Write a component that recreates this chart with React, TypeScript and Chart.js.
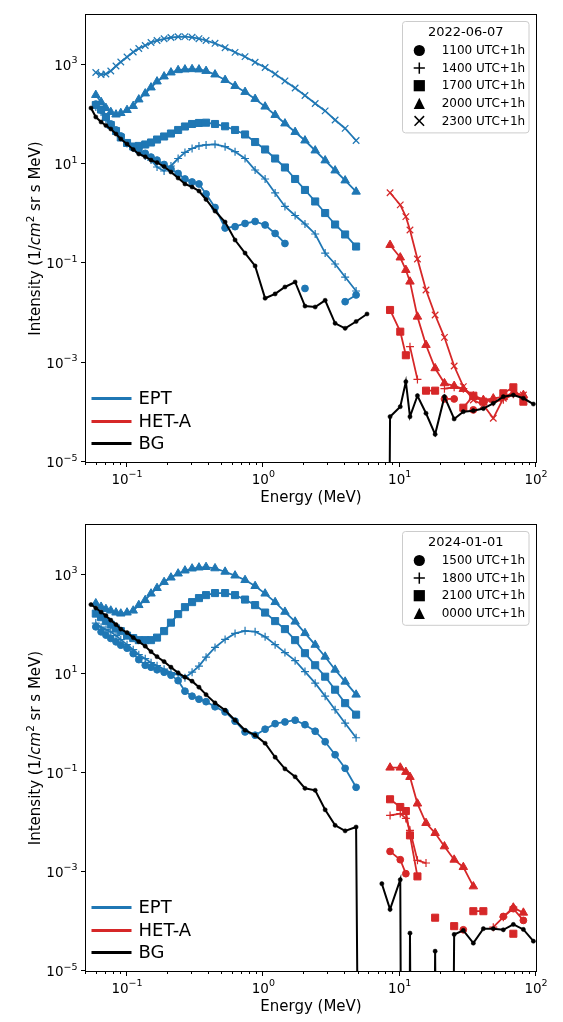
import React, { useEffect, useRef } from "react";
import { Chart, registerables } from "chart.js";

Chart.register(...registerables);

const FONT = '"DejaVu Sans", "Liberation Sans", sans-serif';
const BLUE = "#1f77b4";
const RED = "#d62728";
const BLACK = "#000000";

// ---------------- energies (MeV) ----------------
const EPT_ENERGY = [
  0.059, 0.0645, 0.07, 0.076, 0.083, 0.09, 0.1, 0.111, 0.122, 0.136, 0.15, 0.166,
  0.187, 0.21, 0.237, 0.266, 0.3, 0.337, 0.38, 0.442, 0.524, 0.62, 0.734, 0.87,
  1.03, 1.22, 1.44, 1.71, 2.02, 2.4, 2.84, 3.36, 3.98, 4.79,
];
const BG_EPT_ENERGY = [
  0.0544, 0.059, 0.0645, 0.07, 0.076, 0.083, 0.09, 0.1, 0.111, 0.122, 0.136, 0.15,
  0.166, 0.187, 0.21, 0.237, 0.266, 0.3, 0.337, 0.38, 0.442, 0.524, 0.62, 0.734,
  0.87, 1.03, 1.22, 1.44, 1.71, 2.02, 2.4, 2.84, 3.36, 3.98, 4.79, 5.76,
];
const HET_ENERGY = [
  7.4, 8.5, 10.1, 11.1, 11.9, 13.5, 15.6, 18.2, 21.3, 25.1, 29.3, 34.7, 41.1, 48.6,
  57.6, 68.2, 80.8, 95.7,
];

// ---------------- axes ----------------
const X_MIN = 0.05;
const X_MAX = 100;
const Y_MIN = 1e-5;
const Y_MAX = 1e4;
const X_MAJOR_TICKS = [0.1, 1, 10, 100];
const X_MAJOR_EXPONENTS = ["\u22121", "0", "1", "2"];
const X_MINOR_TICKS = [
  0.05, 0.06, 0.07, 0.08, 0.09, 0.2, 0.3, 0.4, 0.5, 0.6, 0.7, 0.8, 0.9, 2, 3, 4, 5, 6,
  7, 8, 9, 20, 30, 40, 50, 60, 70, 80, 90,
];
const Y_TICKS = [1e3, 1e1, 1e-1, 1e-3, 1e-5];
const Y_EXPONENTS = ["3", "1", "\u22121", "\u22123", "\u22125"];
const X_TITLE = "Energy (MeV)";
const INSTRUMENTS = ["EPT", "HET-A", "BG"];

// ---------------- panel 1 : 2022-06-07 ----------------
const P1_DATE = "2022-06-07";
const P1_TIMES = ["1100 UTC+1h", "1400 UTC+1h", "1700 UTC+1h", "2000 UTC+1h", "2300 UTC+1h"];
const P1_MARKERS = ["circle", "plus", "square", "triangle", "x"];

const P1_EPT_1100 = [
  161, 122, 86.3, 63.9, 48.4, 36.6, 26.5, 21.5, 18.3, 16.4, 13.8, 12.0, 9.77, 7.94,
  6.44, 4.99, 4.34, 3.96, 2.49, 1.33, 0.515, 0.547, 0.634, 0.697, 0.592, 0.399, 0.251,
  null, 0.0312, null, null, null, 0.0169, 0.0231,
];
const P1_EPT_1400 = [
  141, 111, 80.5, 58.2, 44.1, 35.0, 25.9, 21.0, 17.5, 14.5, 12.0, 8.71, 7.23, 9.12,
  12.9, 17.1, 20.5, 23.1, 24.2, 24.9, 22.3, 17.7, 12.9, 7.57, 4.99, 2.61, 1.4, 0.919,
  0.619, 0.39, 0.161, 0.097, 0.053, 0.0277,
];
const P1_EPT_1700 = [
  154, 125, 88.3, 61.0, 46.2, 34.2, 26.5, 22.5, 23.1, 24.7, 27.1, 31.1, 35.8, 41.1,
  48.4, 56.9, 63.9, 67.0, 67.9, 63.9, 57.4, 48.4, 39.3, 27.7, 19.6, 12.9, 8.51, 4.99,
  3.0, 1.76, 1.03, 0.605, 0.381, 0.218,
];
const P1_EPT_2000 = [
  245, 177, 134, 111, 99, 106, 122, 147, 199, 263, 347, 458, 578, 695, 774, 800, 811,
  800, 746, 634, 491, 372, 282, 204, 143, 97, 65.4, 44.1, 29.7, 18.7, 11.8, 7.4, 4.66,
  2.77,
];
const P1_EPT_2300 = [
  695, 634, 649, 746, 940, 1132, 1427, 1799, 2117, 2432, 2795, 3066, 3318, 3525, 3642,
  3659, 3558, 3333, 3066, 2693, 2196, 1774, 1447, 1117, 877, 649, 470, 339, 239, 165,
  117, 77, 52, 29.7,
];
const P1_HET_1100 = [
  null, null, null, null, null, null, null, null, 1.86e-4, 1.86e-4, null, 1.12e-4, null,
  null, null, null, null, null,
];
const P1_HET_1400 = [
  null, null, null, null, 2.1e-3, 4.6e-4, null, null, 3.0e-4, 3.2e-4, 3.0e-4, 2.2e-4,
  1.8e-4, 1.6e-4, 1.8e-4, 2.3e-4, 2.0e-4, null,
];
const P1_HET_1700 = [
  null, 0.0115, 0.00421, 0.00141, null, null, 2.73e-4, 2.73e-4, null, null, 1.24e-4,
  2.16e-4, 1.64e-4, null, 2.42e-4, 3.19e-4, 1.64e-4, null,
];
const P1_HET_2000 = [
  null, 0.234, 0.131, 0.0735, 0.0428, 0.00843, 0.00227, 7.71e-4, 3.85e-4, 3.4e-4,
  2.95e-4, 2.04e-4, 1.77e-4, 1.9e-4, 2.04e-4, 2.45e-4, 2.23e-4, null,
];
const P1_HET_2300 = [
  null, 2.64, 1.5, 0.869, 0.469, 0.122, 0.0291, 0.00912, 0.00324, 8.57e-4, 3.29e-4,
  1.77e-4, 1.41e-4, 7.59e-5, 1.92e-4, 2.45e-4, 2.23e-4, null,
];
const P1_BG_EPT = [
  134, 88.3, 70.1, 59.6, 50.7, 40.2, 31.9, 25.3, 19.6, 15.9, 14.0, 12.0, 10.7, 8.91,
  6.9, 5.22, 3.96, 3.44, 2.86, 1.93, 1.13, 0.679, 0.295, 0.161, 0.0885, 0.0198, 0.0242,
  0.0334, 0.0421, 0.0138, 0.0132, 0.018, 0.00621, 0.00492, 0.00675, 0.00955,
];
const P1_BG_HET = [
  0, 8.18e-5, 1.3e-4, 4.14e-4, 8.18e-5, 2.16e-4, 9.57e-5, 3.61e-5, 2.07e-4, 7.35e-5,
  1.03e-4, 1.08e-4, 1.19e-4, 1.52e-4, 2.07e-4, 2.23e-4, 1.92e-4, 1.47e-4,
];

// ---------------- panel 2 : 2024-01-01 ----------------
const P2_DATE = "2024-01-01";
const P2_TIMES = ["1500 UTC+1h", "1800 UTC+1h", "2100 UTC+1h", "0000 UTC+1h"];
const P2_MARKERS = ["circle", "plus", "square", "triangle"];

const P2_EPT_1500 = [
  88.2, 69.9, 60.0, 51.4, 43.9, 37.6, 32.7, 25.4, 19.2, 14.8, 13.5, 12.0, 10.7, 9.33,
  7.23, 4.43, 3.51, 3.05, 2.72, 2.15, 1.69, 1.1, 0.667, 0.573, 0.757, 0.977, 1.06, 1.15,
  0.933, 0.689, 0.423, 0.231, 0.123, 0.0509,
];
const P2_EPT_1800 = [
  105, 86.9, 77.4, 69.9, 58.6, 48.6, 38.5, 30.5, 24.2, 20.1, 16.7, 14.5, 12.3, 10.5,
  9.55, 8.3, 10.7, 14.2, 21.5, 33.8, 49.1, 64.9, 73.3, 70.5, 55.4, 38.5, 26.6, 18.3,
  11.0, 6.43, 3.51, 1.87, 1.0, 0.509,
];
const P2_EPT_2100 = [
  163, 138, 115, 97.7, 81.9, 72.2, 58.6, 52.2, 47.5, 47.5, 47.5, 53.4, 72.2, 107, 159,
  220, 278, 335, 385, 423, 423, 385, 313, 242, 171, 115, 79.3, 47.5, 25.9, 14.8, 8.69,
  4.75, 2.54, 1.49,
];
const P2_EPT_0000 = [
  262, 223, 201, 187, 171, 163, 171, 187, 242, 305, 413, 534, 705, 869, 1048, 1205,
  1322, 1385, 1418, 1335, 1139, 955, 774, 586, 413, 278, 177, 112, 65.8, 38.2, 22.0,
  12.0, 6.89, 3.77,
];
const P2_HET_1500 = [
  null, 0.00259, 0.00176, 9.2e-4, null, null, null, null, null, null, 6.79e-5, null,
  null, null, 1.26e-4, 1.81e-4, 1.05e-4, null,
];
const P2_HET_1800 = [
  null, 0.0138, 0.015, 0.012, 0.00689, 0.00171, 0.00151, null, null, null, null, null,
  null, 7.67e-5, 1.22e-4, 1.95e-4, null, null,
];
const P2_HET_2100 = [
  null, 0.0292, 0.0204, 0.0169, 0.00546, 8.11e-4, null, 1.19e-4, null, 8.04e-5, null,
  1.61e-4, 1.61e-4, null, null, 5.65e-5, null, null,
];
const P2_HET_0000 = [
  null, 0.127, 0.127, 0.104, 0.0822, 0.0239, 0.00968, 0.00608, 0.00327, 0.00176,
  0.00125, 5.09e-4, null, null, null, 1.9e-4, 1.5e-4, null,
];
const P2_BG_EPT = [
  248, 211, 175, 148, 120, 97.7, 79.3, 67.3, 53.4, 44.3, 35.9, 27.8, 22.0, 17.5, 13.5,
  10.4, 8.49, 7.05, 5.33, 3.77, 2.57, 1.83, 1.15, 0.722, 0.573, 0.394, 0.206, 0.12,
  0.083, 0.0486, 0.0443, 0.0179, 0.00869, 0.00673, 0.00804, 0,
];
const P2_BG_HET = [
  5.78e-4, 1.75e-4, 6.95e-4, 0, 5.81e-5, 0, 0, 2.51e-5, 0, 5.46e-5, 6.58e-5, 3.65e-5,
  7.13e-5, 7.13e-5, 6.79e-5, 8.69e-5, 6.89e-5, 4.0e-5,
];

// ---------------- styling ----------------
// matplotlib clips non-positive values on a log axis: they fall far below the frame
const NONPOSITIVE_FLOOR = 1e-30;

const MARKER_STYLE: Record<string, any> = {
  circle: { pointStyle: "circle", pointRadius: 3.4, pointBorderWidth: 1 },
  plus: { pointStyle: "cross", pointRadius: 4, pointBorderWidth: 1.2 },
  square: { pointStyle: "rect", pointRadius: 5, pointBorderWidth: 1 },
  triangle: { pointStyle: "triangle", pointRadius: 4.9, pointBorderWidth: 1 },
  x: { pointStyle: "crossRot", pointRadius: 4.6, pointBorderWidth: 1.2 },
  dot: { pointStyle: "circle", pointRadius: 2.1, pointBorderWidth: 0.5 },
};

type PanelCfg = {
  date: string;
  times: string[];
  markers: string[];
  ept: (number | null)[][];
  het: (number | null)[][];
  bgEpt: number[];
  bgHet: number[];
  padTop: number;
  xAxisHeight: number;
};

const PANELS: PanelCfg[] = [
  {
    date: P1_DATE,
    times: P1_TIMES,
    markers: P1_MARKERS,
    ept: [P1_EPT_1100, P1_EPT_1400, P1_EPT_1700, P1_EPT_2000, P1_EPT_2300],
    het: [P1_HET_1100, P1_HET_1400, P1_HET_1700, P1_HET_2000, P1_HET_2300],
    bgEpt: P1_BG_EPT,
    bgHet: P1_BG_HET,
    padTop: 15,
    xAxisHeight: 49,
  },
  {
    date: P2_DATE,
    times: P2_TIMES,
    markers: P2_MARKERS,
    ept: [P2_EPT_1500, P2_EPT_1800, P2_EPT_2100, P2_EPT_0000],
    het: [P2_HET_1500, P2_HET_1800, P2_HET_2100, P2_HET_0000],
    bgEpt: P2_BG_EPT,
    bgHet: P2_BG_HET,
    padTop: 14,
    xAxisHeight: 51,
  },
];

function makeDataset(
  xs: number[],
  ys: (number | null)[],
  color: string,
  marker: string,
  width: number
) {
  return {
    data: xs.map((x, i) => {
      const v = ys[i];
      return { x, y: v === null || v === undefined ? null : v <= 0 ? NONPOSITIVE_FLOOR : v };
    }),
    borderColor: color,
    backgroundColor: color,
    pointBackgroundColor: color,
    pointBorderColor: color,
    borderWidth: width,
    tension: 0,
    spanGaps: false,
    ...MARKER_STYLE[marker],
  };
}

function drawPow(ctx: CanvasRenderingContext2D, x: number, y: number, exp: string, align: string) {
  ctx.font = `13.5px ${FONT}`;
  const w1 = ctx.measureText("10").width;
  ctx.font = `9.5px ${FONT}`;
  const w2 = ctx.measureText(exp).width;
  const total = w1 + w2;
  const sx = align === "center" ? x - total / 2 : x - total;
  ctx.textAlign = "left";
  ctx.textBaseline = "alphabetic";
  ctx.font = `13.5px ${FONT}`;
  ctx.fillText("10", sx, y);
  ctx.font = `9.5px ${FONT}`;
  ctx.fillText(exp, sx + w1, y - 6.5);
}

function drawLegendMarker(ctx: CanvasRenderingContext2D, kind: string, x: number, y: number) {
  ctx.fillStyle = BLACK;
  ctx.strokeStyle = BLACK;
  ctx.lineWidth = 1.5;
  const s = 5.6;
  ctx.beginPath();
  if (kind === "circle") {
    ctx.arc(x, y, s, 0, Math.PI * 2);
    ctx.fill();
  } else if (kind === "square") {
    ctx.fillRect(x - s, y - s, 2 * s, 2 * s);
  } else if (kind === "triangle") {
    ctx.moveTo(x, y - s);
    ctx.lineTo(x - s, y + s);
    ctx.lineTo(x + s, y + s);
    ctx.closePath();
    ctx.fill();
  } else if (kind === "plus") {
    ctx.moveTo(x - s, y);
    ctx.lineTo(x + s, y);
    ctx.moveTo(x, y - s);
    ctx.lineTo(x, y + s);
    ctx.stroke();
  } else if (kind === "x") {
    const d = s * 0.85;
    ctx.moveTo(x - d, y - d);
    ctx.lineTo(x + d, y + d);
    ctx.moveTo(x - d, y + d);
    ctx.lineTo(x + d, y - d);
    ctx.stroke();
  }
}

function roundRect(ctx: CanvasRenderingContext2D, x: number, y: number, w: number, h: number, r: number) {
  ctx.beginPath();
  ctx.moveTo(x + r, y);
  ctx.lineTo(x + w - r, y);
  ctx.arcTo(x + w, y, x + w, y + r, r);
  ctx.lineTo(x + w, y + h - r);
  ctx.arcTo(x + w, y + h, x + w - r, y + h, r);
  ctx.lineTo(x + r, y + h);
  ctx.arcTo(x, y + h, x, y + h - r, r);
  ctx.lineTo(x, y + r);
  ctx.arcTo(x, y, x + r, y, r);
  ctx.closePath();
}

function mplPlugin(panel: PanelCfg) {
  return {
    id: "mplDecor",
    afterDraw(chart: any) {
      const ctx: CanvasRenderingContext2D = chart.ctx;
      const a = chart.chartArea;
      const xs = chart.scales.x;
      const ys = chart.scales.y;
      const L = Math.round(a.left);
      const R = Math.round(a.right);
      const T = Math.round(a.top);
      const B = Math.round(a.bottom);
      ctx.save();

      // frame
      ctx.strokeStyle = BLACK;
      ctx.lineWidth = 1;
      ctx.strokeRect(L - 0.5, T - 0.5, R - L + 1, B - T + 1);

      // x ticks
      ctx.beginPath();
      for (const v of X_MAJOR_TICKS) {
        const px = Math.round(xs.getPixelForValue(v)) - 0.5;
        ctx.moveTo(px, B);
        ctx.lineTo(px, B + 5);
      }
      for (const v of X_MINOR_TICKS) {
        const px = Math.round(xs.getPixelForValue(v)) - 0.5;
        ctx.moveTo(px, B);
        ctx.lineTo(px, B + 3);
      }
      // y ticks
      for (const v of Y_TICKS) {
        const py = Math.round(ys.getPixelForValue(v)) - 0.5;
        ctx.moveTo(L - 5, py);
        ctx.lineTo(L, py);
      }
      ctx.stroke();

      // tick labels
      ctx.fillStyle = BLACK;
      X_MAJOR_TICKS.forEach((v, i) => {
        drawPow(ctx, xs.getPixelForValue(v), B + 21.5, X_MAJOR_EXPONENTS[i], "center");
      });
      Y_TICKS.forEach((v, i) => {
        drawPow(ctx, L - 8.5, ys.getPixelForValue(v) + 5, Y_EXPONENTS[i], "right");
      });

      // x title
      ctx.font = `15px ${FONT}`;
      ctx.textAlign = "center";
      ctx.textBaseline = "alphabetic";
      ctx.fillText(X_TITLE, (L + R) / 2, B + 40);

      // y title with italic cm and superscript 2
      const segs = [
        { t: "Intensity (1/", f: `15px ${FONT}`, dy: 0 },
        { t: "cm", f: `italic 15px ${FONT}`, dy: 0 },
        { t: "2", f: `10.5px ${FONT}`, dy: -6.5 },
        { t: " sr s MeV)", f: `15px ${FONT}`, dy: 0 },
      ];
      let total = 0;
      const widths = segs.map((s) => {
        ctx.font = s.f;
        const w = ctx.measureText(s.t).width;
        total += w;
        return w;
      });
      ctx.save();
      ctx.translate(40, (T + B) / 2);
      ctx.rotate(-Math.PI / 2);
      ctx.textAlign = "left";
      let cx = -total / 2;
      segs.forEach((s, i) => {
        ctx.font = s.f;
        ctx.fillText(s.t, cx, s.dy);
        cx += widths[i];
      });
      ctx.restore();

      // instrument legend (lower left)
      const instColors = [BLUE, RED, BLACK];
      const rowsY = [B - 63.5, B - 40.5, B - 18.5];
      INSTRUMENTS.forEach((name, i) => {
        ctx.strokeStyle = instColors[i];
        ctx.lineWidth = 3;
        ctx.beginPath();
        ctx.moveTo(L + 5.5, rowsY[i]);
        ctx.lineTo(L + 45.5, rowsY[i]);
        ctx.stroke();
        ctx.fillStyle = BLACK;
        ctx.font = `18px ${FONT}`;
        ctx.textAlign = "left";
        ctx.textBaseline = "middle";
        ctx.fillText(name, L + 52.5, rowsY[i] + 0.5);
      });

      // time legend (upper right)
      const n = panel.times.length;
      const bx = R - 133.5;
      const bw = 126.5;
      const by = T + 6.5;
      const bh = 29 + (n - 1) * 17.6 + 12;
      roundRect(ctx, bx, by, bw, bh, 3);
      ctx.fillStyle = "rgba(255,255,255,0.8)";
      ctx.fill();
      ctx.strokeStyle = "#cccccc";
      ctx.lineWidth = 1;
      ctx.stroke();
      ctx.fillStyle = BLACK;
      ctx.font = `13px ${FONT}`;
      ctx.textAlign = "center";
      ctx.textBaseline = "middle";
      ctx.fillText(panel.date, bx + bw / 2, by + 11);
      panel.times.forEach((t, i) => {
        const ry = by + 29 + i * 17.6;
        drawLegendMarker(ctx, panel.markers[i], R - 116.7, ry);
        ctx.fillStyle = BLACK;
        ctx.font = `12px ${FONT}`;
        ctx.textAlign = "left";
        ctx.textBaseline = "middle";
        ctx.fillText(t, R - 94.3, ry + 0.5);
      });

      ctx.restore();
    },
  };
}

function buildConfig(panel: PanelCfg): any {
  const datasets: any[] = [];
  datasets.push(makeDataset(BG_EPT_ENERGY, panel.bgEpt, BLACK, "dot", 2));
  datasets.push(makeDataset(HET_ENERGY, panel.bgHet, BLACK, "dot", 2));
  panel.ept.forEach((ys, i) => datasets.push(makeDataset(EPT_ENERGY, ys, BLUE, panel.markers[i], 1.8)));
  panel.het.forEach((ys, i) => datasets.push(makeDataset(HET_ENERGY, ys, RED, panel.markers[i], 1.8)));
  const xAxisHeight = panel.xAxisHeight;
  return {
    type: "line",
    data: { datasets },
    options: {
      animation: false,
      responsive: false,
      maintainAspectRatio: false,
      events: [],
      layout: { padding: { left: 0, right: 27, top: panel.padTop, bottom: 0 } },
      plugins: {
        legend: { display: false },
        tooltip: { enabled: false },
        title: { display: false },
      },
      scales: {
        x: {
          type: "logarithmic",
          min: X_MIN,
          max: X_MAX,
          grid: { display: false },
          border: { display: false },
          ticks: { display: false },
          afterFit: (s: any) => {
            s.height = xAxisHeight;
          },
        },
        y: {
          type: "logarithmic",
          min: Y_MIN,
          max: Y_MAX,
          grid: { display: false },
          border: { display: false },
          ticks: { display: false },
          afterFit: (s: any) => {
            s.width = 86;
          },
        },
      },
    },
    plugins: [mplPlugin(panel)],
  };
}

function PanelChart({ panel }: { panel: PanelCfg }) {
  const ref = useRef<HTMLCanvasElement>(null);
  useEffect(() => {
    const chart = new Chart(ref.current as HTMLCanvasElement, buildConfig(panel));
    return () => chart.destroy();
  }, [panel]);
  return (
    <canvas
      ref={ref}
      width={563}
      height={511}
      style={{ display: "block", width: 563, height: 511 }}
    />
  );
}

export default function App() {
  return (
    <div
      style={{
        position: "absolute",
        left: 0,
        top: 0,
        width: 563,
        height: 1022,
        background: "#ffffff",
      }}
    >
      {PANELS.map((p, i) => (
        <PanelChart key={i} panel={p} />
      ))}
    </div>
  );
}
